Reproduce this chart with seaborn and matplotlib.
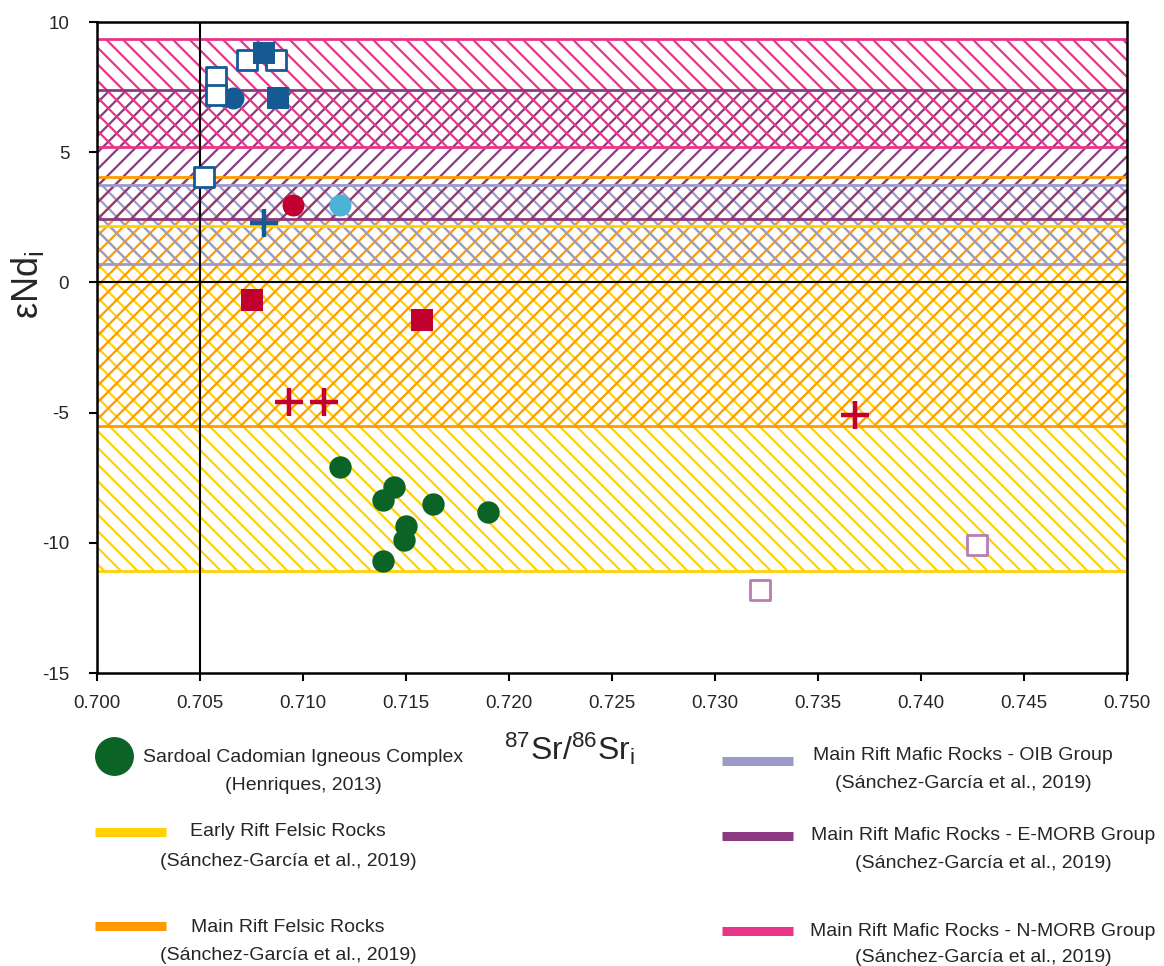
import matplotlib
matplotlib.use("Agg")
import matplotlib.pyplot as plt
import seaborn as sns
from matplotlib.lines import Line2D

sns.set_style("ticks")
plt.rcParams['font.family'] = ['Liberation Sans', 'DejaVu Sans']
plt.rcParams['mathtext.fontset'] = 'custom'
plt.rcParams['mathtext.rm'] = 'Liberation Sans'
plt.rcParams['mathtext.it'] = 'Liberation Sans'
plt.rcParams['axes.unicode_minus'] = False
plt.rcParams['hatch.linewidth'] = 1.6

# ---------------- data ----------------
band_labels = ["Early Rift Felsic Rocks", "Main Rift Felsic Rocks",
               "Main Rift Mafic Rocks - OIB Group",
               "Main Rift Mafic Rocks - E-MORB Group",
               "Main Rift Mafic Rocks - N-MORB Group"]
band_low = [-11.1, -5.5, 0.7, 2.45, 5.2]
band_high = [2.15, 4.05, 3.75, 7.4, 9.35]
band_colors = ["#FFD200", "#FF9A00", "#9C9AC9", "#8C3A80", "#E8358A"]
band_hatch = ["\\\\", "//", "\\\\", "//", "\\\\"]
ref_label = "(Sánchez-García et al., 2019)"

# Sardoal Cadomian Igneous Complex
sardoal_label = "Sardoal Cadomian Igneous Complex"
sardoal_ref = "(Henriques, 2013)"
sardoal_sr = [0.7118, 0.7144, 0.7139, 0.7163, 0.7190, 0.7150, 0.7149, 0.7139]
sardoal_nd = [-7.1, -7.85, -8.35, -8.5, -8.8, -9.35, -9.9, -10.7]

# other samples
blue_open_sr = [0.7052, 0.7058, 0.7058, 0.7073, 0.7087]
blue_open_nd = [4.05, 7.9, 7.2, 8.55, 8.55]
blue_fill_sq_sr = [0.7081, 0.7088]
blue_fill_sq_nd = [8.8, 7.07]
blue_circle_sr = [0.7066]
blue_circle_nd = [7.07]
blue_cross_sr = [0.7081]
blue_cross_nd = [2.28]
red_circle_sr = [0.7095]
red_circle_nd = [2.97]
lblue_circle_sr = [0.7118]
lblue_circle_nd = [2.97]
red_sq_sr = [0.7075, 0.7158]
red_sq_nd = [-0.68, -1.45]
red_cross_sr = [0.7093, 0.7110, 0.7368]
red_cross_nd = [-4.6, -4.6, -5.1]
pink_sq_sr = [0.7427, 0.7322]
pink_sq_nd = [-10.1, -11.8]

x_ticks = [0.700, 0.705, 0.710, 0.715, 0.720, 0.725, 0.730, 0.735, 0.740, 0.745, 0.750]
y_ticks = [-15, -10, -5, 0, 5, 10]

# ---------------- figure ----------------
W, H = 1164, 966
fig = plt.figure(figsize=(W / 100, H / 100), dpi=100)
fig.patch.set_facecolor("white")
ax = fig.add_axes([97 / W, 1 - 673 / H, (1127 - 97) / W, (673 - 22) / H])

xr = [x_ticks[0], x_ticks[-1]]
for lo, hi, c, h in zip(band_low, band_high, band_colors, band_hatch):
    ax.fill_between(xr, [lo, lo], [hi, hi], facecolor="none", edgecolor=c,
                    hatch=h, linewidth=0, zorder=1)
    ax.plot(xr, [lo, lo], color=c, lw=2, zorder=1.5)
    ax.plot(xr, [hi, hi], color=c, lw=2, zorder=1.5)

ax.axvline(0.705, color="black", lw=1.5, zorder=2)
ax.axhline(0, color="black", lw=1.5, zorder=2)

blue = "#155A95"
red = "#C2002F"
green = "#0B6425"

sns.scatterplot(x=sardoal_sr, y=sardoal_nd, marker="o", s=260, color=green,
                linewidth=0, ax=ax, zorder=4)
sns.scatterplot(x=blue_circle_sr, y=blue_circle_nd, marker="o", s=250, color=blue,
                linewidth=0, ax=ax, zorder=4)
sns.scatterplot(x=blue_open_sr, y=blue_open_nd, marker="s", s=210, color="white",
                edgecolor=blue, linewidth=2, ax=ax, zorder=5)
sns.scatterplot(x=blue_fill_sq_sr, y=blue_fill_sq_nd, marker="s", s=240, color=blue,
                linewidth=0, ax=ax, zorder=6)
sns.scatterplot(x=blue_cross_sr, y=blue_cross_nd, marker="+", s=420, color=blue,
                linewidth=3.2, ax=ax, zorder=4)
sns.scatterplot(x=red_circle_sr, y=red_circle_nd, marker="o", s=250, color=red,
                linewidth=0, ax=ax, zorder=4)
sns.scatterplot(x=lblue_circle_sr, y=lblue_circle_nd, marker="o", s=250, color="#4DB3D6",
                linewidth=0, ax=ax, zorder=4)
sns.scatterplot(x=red_sq_sr, y=red_sq_nd, marker="s", s=240, color=red,
                linewidth=0, ax=ax, zorder=4)
sns.scatterplot(x=red_cross_sr, y=red_cross_nd, marker="+", s=420, color=red,
                linewidth=3.2, ax=ax, zorder=4)
sns.scatterplot(x=pink_sq_sr, y=pink_sq_nd, marker="s", s=220, color="white",
                edgecolor="#B77DB4", linewidth=2, ax=ax, zorder=4)

ax.set_xlim(xr)
ax.set_ylim(y_ticks[0], y_ticks[-1])
ax.set_xticks(x_ticks)
ax.set_xticklabels([f"{v:.3f}" for v in x_ticks], fontsize=13.5)
ax.set_yticks(y_ticks)
ax.set_yticklabels([str(v) for v in y_ticks], fontsize=13.5)
ax.tick_params(axis="x", direction="out", length=6, width=1.5, color="black", pad=10)
ax.tick_params(axis="y", direction="out", length=6, width=1.5, color="black", pad=14)
for sp in ax.spines.values():
    sp.set_linewidth(1.8)
    sp.set_color("black")
ax.set_xlabel("")
ax.set_ylabel("")

# ---------------- helpers for figure pixel positions ----------------
def fx(px):
    return px / W

def fy(py):
    return 1 - py / H

# axis titles
fig.text(fx(27), fy(285), r"εNd$_{\mathrm{i}}$", rotation=90, fontsize=26,
         ha="center", va="center")
fig.text(fx(569), fy(760), r"$^{87}$Sr/$^{86}$Sr$_{\mathrm{i}}$", fontsize=23,
         ha="center", va="baseline")

# ---------------- legend ----------------
FS = 14
fig.add_artist(Line2D([fx(114)], [fy(756)], marker="o", markersize=27,
                      color=green, linestyle="none", transform=fig.transFigure))
fig.text(fx(303), fy(757), sardoal_label, fontsize=FS, ha="center", va="center")
fig.text(fx(303), fy(785), sardoal_ref, fontsize=FS, ha="center", va="center")

left_rows = [(0, 832, 832, 861), (1, 926, 928, 956)]
for idx, pyb, py1, py2 in left_rows:
    fig.add_artist(Line2D([fx(95), fx(166)], [fy(pyb), fy(pyb)], lw=6.5,
                          color=band_colors[idx], solid_capstyle="butt",
                          transform=fig.transFigure))
    fig.text(fx(288), fy(py1), band_labels[idx], fontsize=FS, ha="center", va="center")
    fig.text(fx(288), fy(py2), ref_label, fontsize=FS, ha="center", va="center")

right_rows = [(2, 761, 756, 784, 963), (3, 836, 835, 863, 983), (4, 931, 931, 958, 983)]
for idx, pyb, py1, py2, cx in right_rows:
    fig.add_artist(Line2D([fx(722), fx(793)], [fy(pyb), fy(pyb)], lw=6.5,
                          color=band_colors[idx], solid_capstyle="butt",
                          transform=fig.transFigure))
    fig.text(fx(cx), fy(py1), band_labels[idx], fontsize=FS, ha="center", va="center")
    fig.text(fx(cx), fy(py2), ref_label, fontsize=FS, ha="center", va="center")

fig.savefig("out.png", dpi=100, facecolor="white")
